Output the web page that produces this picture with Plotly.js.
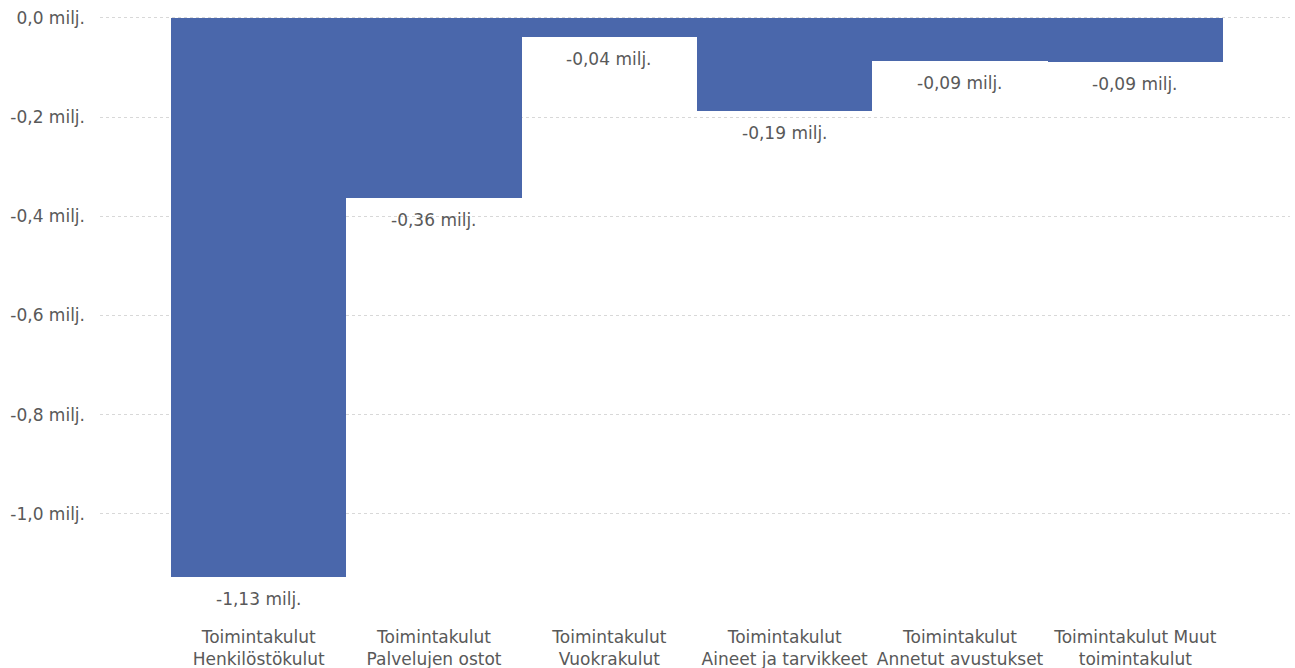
<!DOCTYPE html>
<html>
<head>
<meta charset="utf-8">
<script src="https://cdn.plot.ly/plotly-3.0.1.min.js"></script>
<style>html,body{margin:0;padding:0;background:#fff;}#chart{width:1295px;height:668px;}</style>
</head>
<body>
<div id="chart"></div>
<script>
const categories = [
  "Toimintakulut<br>Henkilöstökulut",
  "Toimintakulut<br>Palvelujen ostot",
  "Toimintakulut<br>Vuokrakulut",
  "Toimintakulut<br>Aineet ja tarvikkeet",
  "Toimintakulut<br>Annetut avustukset",
  "Toimintakulut Muut<br>toimintakulut"
];
const values = [-1.127, -0.363, -0.038, -0.187, -0.087, -0.089];
const tickValues = [0, -0.2, -0.4, -0.6, -0.8, -1.0];
const tickLabels = ["0,0 milj.", "-0,2 milj.", "-0,4 milj.", "-0,6 milj.", "-0,8 milj.", "-1,0 milj."];

const fmt = v => v.toFixed(2).replace('.', ',') + ' milj.';
const textColor = '#595959';
const font = {family: 'DejaVu Sans', size: 17, color: textColor};

const annotations = values.map((v, i) => ({
  x: categories[i], y: v, xref: 'x', yref: 'y',
  text: fmt(v), showarrow: false, yanchor: 'top', yshift: -10,
  font: font
}));

Plotly.newPlot('chart', [{
  type: 'bar',
  x: categories,
  y: values,
  marker: {color: '#4a67ab'},
  hoverinfo: 'none'
}], {
  width: 1295, height: 668,
  margin: {l: 100, r: 5, t: 8, b: 70},
  paper_bgcolor: '#fff', plot_bgcolor: '#fff',
  bargap: 0,
  font: font,
  showlegend: false,
  xaxis: {
    range: [-0.905, 5.882],
    showgrid: false, zeroline: false, showline: false, ticks: '',
    tickfont: font, ticklabelstandoff: 27
  },
  yaxis: {
    range: [-1.17, 0.02],
    tickvals: tickValues, ticktext: tickLabels,
    showgrid: true, gridcolor: '#d8d8d8', griddash: 'dot', gridwidth: 1,
    zeroline: false, showline: false, ticks: '',
    tickfont: font, ticklabelstandoff: 14
  },
  annotations: annotations
}, {displayModeBar: false, staticPlot: true});
</script>
</body>
</html>
